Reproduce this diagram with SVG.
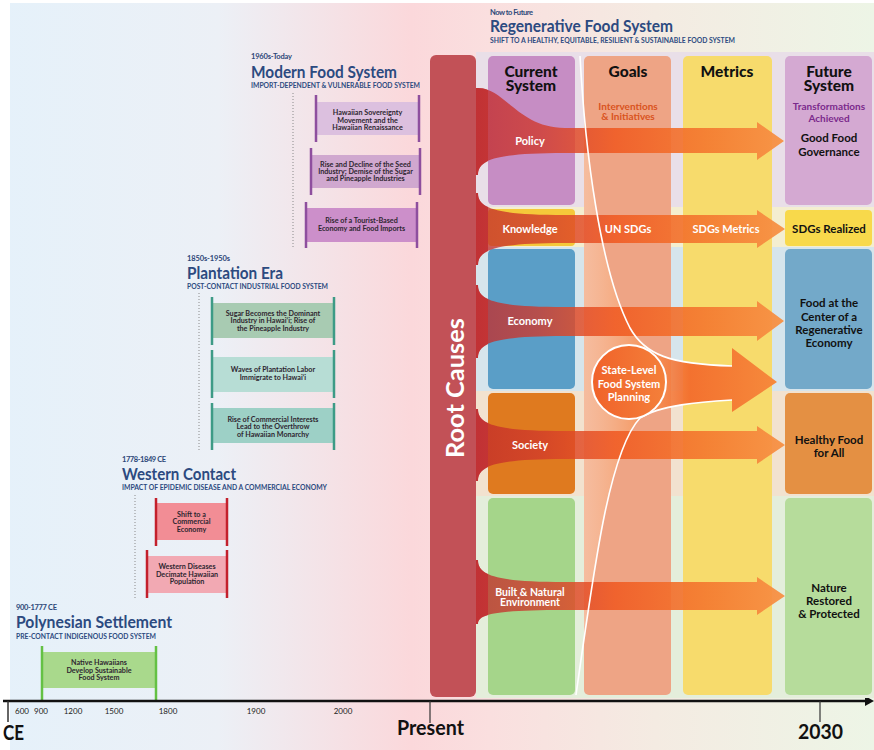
<svg xmlns="http://www.w3.org/2000/svg" width="874" height="750" viewBox="0 0 874 750">
<defs>
<style>
text{font-family:Lato,"Open Sans","Liberation Sans",sans-serif}
.yr{font-size:7.5px;font-weight:700;fill:#2c4778}
.ttl{font-size:17px;font-weight:700;fill:#2c4a80}
.sub{font-size:6.8px;font-weight:700;fill:#2c4a80}
.bx{font-size:7.2px;font-weight:700;fill:#2e2630;text-anchor:middle}
.hd{font-size:15.5px;font-weight:900;fill:#111;text-anchor:middle}
.al{font-size:11px;font-weight:700;fill:#fff;text-anchor:middle}
.al2{font-size:10.5px;font-weight:700;fill:#fff;text-anchor:middle}
.ft{font-size:11.5px;font-weight:700;fill:#111;text-anchor:middle}
.tk{font-size:8px;fill:#222;text-anchor:middle}
.big{font-weight:700;fill:#111}
.dot{stroke:#8a8a8a;stroke-width:1;stroke-dasharray:1 2;fill:none}
.bm{stroke:#8e4f9e;stroke-width:2.5}
.bp{stroke:#3d9b86;stroke-width:2.5}
.bw{stroke:#c3202c;stroke-width:2.5}
.bg{stroke:#64c144;stroke-width:2.5}
.arr{fill:url(#ag)}
.wl{fill:none;stroke:#fff;stroke-width:1.6}
</style>
<linearGradient id="bgg" x1="0" y1="0" x2="874" y2="0" gradientUnits="userSpaceOnUse">
<stop offset="0" stop-color="#e5f1fa"/>
<stop offset="0.25" stop-color="#ecf0f6"/>
<stop offset="0.47" stop-color="#fbd8db"/>
<stop offset="0.56" stop-color="#fadfdf"/>
<stop offset="0.75" stop-color="#f4ebe2"/>
<stop offset="1" stop-color="#edf5e6"/>
</linearGradient>
<linearGradient id="ag" x1="476" y1="0" x2="785" y2="0" gradientUnits="userSpaceOnUse">
<stop offset="0" stop-color="#c0282a" stop-opacity="0.75"/>
<stop offset="0.2" stop-color="#d0382a" stop-opacity="0.78"/>
<stop offset="0.45" stop-color="#f05a22" stop-opacity="0.88"/>
<stop offset="0.75" stop-color="#f47a30" stop-opacity="0.92"/>
<stop offset="1" stop-color="#f79245" stop-opacity="0.95"/>
</linearGradient>
<linearGradient id="sg" x1="584" y1="0" x2="777" y2="0" gradientUnits="userSpaceOnUse">
<stop offset="0" stop-color="#fbd0b4" stop-opacity="0.55"/>
<stop offset="0.3" stop-color="#f6955a" stop-opacity="0.8"/>
<stop offset="0.55" stop-color="#f36c2c" stop-opacity="0.95"/>
<stop offset="1" stop-color="#f68a3c"/>
</linearGradient>
<linearGradient id="cg" x1="0" y1="0" x2="1" y2="0">
<stop offset="0" stop-color="#f0622a"/>
<stop offset="1" stop-color="#f4803a"/>
</linearGradient>
<clipPath id="goalclip"><rect x="584" y="0" width="290" height="750"/></clipPath>
<clipPath id="gapclip"><rect x="476" y="0" width="12" height="750"/></clipPath>
<path id="a-policy" d="M476,88 L478,88 C505,88 518,128 565,128 L757,128 L757,122 L784,141 L757,160 L757,153 L565,153 C492,153 478,160.7 478,175 L476,175 Z"/>
<path id="a-knowledge" d="M476,193 L478,193 C478,207.3 492,215 565,215 L757,215 L757,210 L785,229 L757,248 L757,243 L565,243 C492,243 478,250.7 478,265 L476,265 Z"/>
<path id="a-economy" d="M476,285 L478,285 C478,299.3 492,307 565,307 L757,307 L757,301 L784,321 L757,341 L757,336 L565,336 C492,336 478,343.7 478,358 L476,358 Z"/>
<path id="a-society" d="M476,409 L478,409 C478,423.3 492,431 565,431 L757,431 L757,426 L785,445 L757,464 L757,459 L565,459 C492,459 478,466.7 478,481 L476,481 Z"/>
<path id="a-built" d="M476,560 L478,560 C478,574.3 492,582 565,582 L757,582 L757,577 L785,596 L757,615 L757,610 L565,610 C492,610 478,614.9 478,624 L476,624 Z"/>
</defs>

<rect x="10" y="3" width="864" height="747" fill="url(#bgg)"/>

<!-- Modern Food System -->
<g id="era-modern">
<text class="yr" x="251" y="59" textLength="41">1960s-Today</text>
<text class="ttl" x="251" y="78" textLength="146" lengthAdjust="spacingAndGlyphs">Modern Food System</text>
<text class="sub" x="251" y="88" textLength="169" lengthAdjust="spacingAndGlyphs">IMPORT-DEPENDENT &amp; VULNERABLE FOOD SYSTEM</text>
<line class="dot" x1="293" y1="93" x2="293" y2="248"/>
</g>
<g id="n-sovereignty">
<rect x="316" y="102" width="103" height="33" fill="#dcc0df"/>
<line class="bm" x1="316" y1="95" x2="316" y2="142"/><line class="bm" x1="419" y1="95" x2="419" y2="142"/>
<text class="bx" x="367.5" y="115">Hawaiian Sovereignty</text>
<text class="bx" x="367.5" y="122.5">Movement and the</text>
<text class="bx" x="367.5" y="130">Hawaiian Renaissance</text>
</g>
<g id="n-seed">
<rect x="311" y="155" width="109" height="33" fill="#d0a8cf"/>
<line class="bm" x1="311" y1="148" x2="311" y2="195"/><line class="bm" x1="420" y1="148" x2="420" y2="195"/>
<text class="bx" x="365.5" y="167.3">Rise and Decline of the Seed</text>
<text class="bx" x="365.5" y="174.3">Industry; Demise of the Sugar</text>
<text class="bx" x="365.5" y="181.3">and Pineapple Industries</text>
</g>
<g id="n-tourist">
<rect x="306" y="208" width="111" height="34" fill="#cc8fca"/>
<line class="bm" x1="306" y1="202" x2="306" y2="248"/><line class="bm" x1="417" y1="202" x2="417" y2="248"/>
<text class="bx" x="361.5" y="222.5">Rise of a Tourist-Based</text>
<text class="bx" x="361.5" y="230.5">Economy and Food Imports</text>
</g>

<!-- Plantation Era -->
<g id="era-plantation">
<text class="yr" x="187" y="261" textLength="43">1850s-1950s</text>
<text class="ttl" x="187" y="279" textLength="96" lengthAdjust="spacingAndGlyphs">Plantation Era</text>
<text class="sub" x="187" y="289" textLength="141" lengthAdjust="spacingAndGlyphs">POST-CONTACT INDUSTRIAL FOOD SYSTEM</text>
<line class="dot" x1="199" y1="293" x2="199" y2="450"/>
</g>
<g id="n-sugar">
<rect x="212" y="303" width="122" height="35" fill="#a8cbb2"/>
<line class="bp" x1="212" y1="297" x2="212" y2="345"/><line class="bp" x1="334" y1="297" x2="334" y2="345"/>
<text class="bx" x="273" y="316">Sugar Becomes the Dominant</text>
<text class="bx" x="273" y="323.3">Industry in Hawai‘i; Rise of</text>
<text class="bx" x="273" y="330.7">the Pineapple Industry</text>
</g>
<g id="n-labor">
<rect x="212" y="357" width="122" height="35" fill="#b7ddd5"/>
<line class="bp" x1="212" y1="350" x2="212" y2="398"/><line class="bp" x1="334" y1="350" x2="334" y2="398"/>
<text class="bx" x="273" y="372.3">Waves of Plantation Labor</text>
<text class="bx" x="273" y="380">Immigrate to Hawai‘i</text>
</g>
<g id="n-commercial">
<rect x="212" y="408" width="122" height="35" fill="#9dd0c6"/>
<line class="bp" x1="212" y1="403" x2="212" y2="450"/><line class="bp" x1="334" y1="403" x2="334" y2="450"/>
<text class="bx" x="273" y="421.7">Rise of Commercial Interests</text>
<text class="bx" x="273" y="429">Lead to the Overthrow</text>
<text class="bx" x="273" y="436.7">of Hawaiian Monarchy</text>
</g>

<!-- Western Contact -->
<g id="era-western">
<text class="yr" x="122" y="462" textLength="44">1778-1849 CE</text>
<text class="ttl" x="122" y="480" textLength="114" lengthAdjust="spacingAndGlyphs">Western Contact</text>
<text class="sub" x="122" y="490" textLength="205" lengthAdjust="spacingAndGlyphs">IMPACT OF EPIDEMIC DISEASE AND A COMMERCIAL ECONOMY</text>
<line class="dot" x1="135" y1="495" x2="135" y2="598"/>
</g>
<g id="n-shift">
<rect x="156" y="503" width="71" height="37" fill="#f28d95"/>
<line class="bw" x1="156" y1="498" x2="156" y2="546"/><line class="bw" x1="227" y1="498" x2="227" y2="546"/>
<text class="bx" x="191.5" y="516.7">Shift to a</text>
<text class="bx" x="191.5" y="524">Commercial</text>
<text class="bx" x="191.5" y="531.7">Economy</text>
</g>
<g id="n-diseases">
<rect x="147" y="556" width="80" height="37" fill="#f2a9b3"/>
<line class="bw" x1="147" y1="550" x2="147" y2="598"/><line class="bw" x1="227" y1="550" x2="227" y2="598"/>
<text class="bx" x="187" y="569.3">Western Diseases</text>
<text class="bx" x="187" y="577">Decimate Hawaiian</text>
<text class="bx" x="187" y="584.3">Population</text>
</g>

<!-- Polynesian Settlement -->
<g id="era-polynesian">
<text class="yr" x="16" y="610" textLength="41">900-1777 CE</text>
<text class="ttl" x="16" y="628" textLength="156" lengthAdjust="spacingAndGlyphs">Polynesian Settlement</text>
<text class="sub" x="16" y="639" textLength="140" lengthAdjust="spacingAndGlyphs">PRE-CONTACT INDIGENOUS FOOD SYSTEM</text>
</g>
<g id="n-native">
<rect x="42" y="652" width="114" height="36" fill="#a9d98c"/>
<line class="bg" x1="42" y1="646" x2="42" y2="700"/><line class="bg" x1="156" y1="646" x2="156" y2="700"/>
<text class="bx" x="99" y="665">Native Hawaiians</text>
<text class="bx" x="99" y="672.7">Develop Sustainable</text>
<text class="bx" x="99" y="680">Food System</text>
</g>

<!-- Timeline axis -->
<g id="axis">
<line x1="3" y1="701" x2="868" y2="701" stroke="#111" stroke-width="2.5"/>
<polygon points="865,696 874,701 865,706" fill="#111"/>
<line x1="8" y1="701" x2="8" y2="722" stroke="#333" stroke-width="1.5"/>
<line x1="430" y1="701" x2="430" y2="723" stroke="#333" stroke-width="1.2"/>
<line x1="820" y1="701" x2="820" y2="722" stroke="#333" stroke-width="1.2"/>
<text class="tk" x="22" y="714">600</text>
<text class="tk" x="41" y="714">900</text>
<text class="tk" x="73" y="714">1200</text>
<text class="tk" x="114" y="714">1500</text>
<text class="tk" x="168" y="714">1800</text>
<text class="tk" x="256" y="714">1900</text>
<text class="tk" x="343" y="714">2000</text>
<text class="big" x="3" y="740" font-size="20" textLength="21" lengthAdjust="spacingAndGlyphs">CE</text>
<text class="big" x="397" y="735" font-size="20" textLength="67" lengthAdjust="spacingAndGlyphs">Present</text>
<text class="big" x="798" y="739" font-size="20" textLength="45" lengthAdjust="spacingAndGlyphs">2030</text>
</g>

<!-- Regenerative header -->
<g id="era-regenerative">
<text class="yr" x="490" y="15" font-size="7" textLength="43">Now to Future</text>
<text class="ttl" x="490" y="32" font-size="16" textLength="183" lengthAdjust="spacingAndGlyphs">Regenerative Food System</text>
<text class="sub" x="490" y="43" font-size="6.2" textLength="245" lengthAdjust="spacingAndGlyphs">SHIFT TO A HEALTHY, EQUITABLE, RESILIENT &amp; SUSTAINABLE FOOD SYSTEM</text>
</g>

<!-- Row tints -->
<g id="row-tints">
<rect x="476" y="52" width="398" height="155" fill="#e9dfe8"/>
<rect x="476" y="207" width="398" height="40" fill="#f4eed0"/>
<rect x="476" y="247" width="398" height="144" fill="#d6e5ec"/>
<rect x="476" y="391" width="398" height="105" fill="#f2e2cf"/>
<rect x="476" y="496" width="398" height="202" fill="#e4eedb"/>
</g>

<!-- Root causes -->
<g id="root-causes">
<rect x="430" y="55" width="46" height="642" rx="6" fill="#c25157"/>
</g>

<!-- Current system column -->
<g id="col-current">
<rect x="488" y="56" width="87" height="149" rx="5" fill="#c68dc4"/>
<rect x="488" y="209" width="87" height="37" rx="4" fill="#f5c93a"/>
<rect x="488" y="249" width="87" height="140" rx="5" fill="#5a9ec7"/>
<rect x="488" y="393" width="87" height="101" rx="5" fill="#df7a1f"/>
<rect x="488" y="498" width="87" height="197" rx="5" fill="#a5d58a"/>
</g>
<g id="col-goals">
<rect x="584" y="56" width="87" height="639" rx="5" fill="#eea485"/>
</g>
<g id="col-metrics">
<rect x="683" y="56" width="89" height="639" rx="5" fill="#f7db6c"/>
</g>
<g id="col-future">
<rect x="785" y="56" width="87" height="149" rx="5" fill="#d4a9d2"/>
<rect x="785" y="210" width="87" height="36" rx="4" fill="#f8d94b"/>
<rect x="785" y="249" width="87" height="140" rx="5" fill="#73a9c9"/>
<rect x="785" y="393" width="87" height="101" rx="5" fill="#e49043"/>
<rect x="785" y="498" width="87" height="197" rx="5" fill="#b6dc9b"/>
</g>

<!-- Connectors -->
<g id="connectors">
<path clip-path="url(#goalclip)" fill="url(#sg)" d="M580,56 C585,150 600,270 630,328 C645,355 670,364 732,366 L732,348 L777,382 L732,412 L732,400 C700,402 660,405 640,418 C610,450 595,560 576,695 Z"/>
<g clip-path="url(#gapclip)" fill="#c44e55">
<use href="#a-policy"/><use href="#a-knowledge"/><use href="#a-economy"/><use href="#a-society"/><use href="#a-built"/>
</g>
<use class="arr" href="#a-policy"/>
<use class="arr" href="#a-knowledge"/>
<use class="arr" href="#a-economy"/>
<use class="arr" href="#a-society"/>
<use class="arr" href="#a-built"/>
<path class="wl" d="M580,56 C585,150 600,270 630,328 C645,355 670,364 732,366"/>
<path class="wl" d="M576,695 C595,560 610,450 640,418 C660,405 700,402 732,400"/>
</g>

<g id="n-state-planning">
<circle cx="629" cy="382" r="37" fill="url(#cg)" stroke="#fff" stroke-width="2"/>
<text class="al" x="629" y="374">State-Level</text>
<text class="al" x="629" y="388">Food System</text>
<text class="al" x="629" y="401">Planning</text>
</g>

<g id="root-label">
<text x="464" y="388" font-size="24" font-weight="700" fill="#fff" text-anchor="middle" textLength="140" lengthAdjust="spacingAndGlyphs" transform="rotate(-90 464 388)">Root Causes</text>
</g>

<g id="headers">
<text class="hd" x="531" y="77">Current</text>
<text class="hd" x="531" y="91">System</text>
<text class="hd" x="628" y="77">Goals</text>
<text class="hd" x="727" y="77">Metrics</text>
<text class="hd" x="829" y="77">Future</text>
<text class="hd" x="829" y="91">System</text>
<text x="628" y="110" font-size="10" font-weight="700" fill="#d9531e" text-anchor="middle">Interventions</text>
<text x="628" y="120" font-size="10" font-weight="700" fill="#d9531e" text-anchor="middle">&amp; Initiatives</text>
<text x="829" y="110" font-size="10" font-weight="700" fill="#7b2a8c" text-anchor="middle">Transformations</text>
<text x="829" y="122" font-size="10" font-weight="700" fill="#7b2a8c" text-anchor="middle">Achieved</text>
</g>

<g id="arrow-labels">
<text class="al" x="530" y="145">Policy</text>
<text class="al" x="530" y="233">Knowledge</text>
<text class="al" x="628" y="233">UN SDGs</text>
<text class="al" x="726" y="233">SDGs Metrics</text>
<text class="al" x="530" y="325">Economy</text>
<text class="al" x="530" y="449">Society</text>
<text class="al2" x="530" y="595.5">Built &amp; Natural</text>
<text class="al2" x="530" y="606">Environment</text>
</g>

<g id="future-labels">
<text class="ft" x="829" y="142">Good Food</text>
<text class="ft" x="829" y="156">Governance</text>
<text class="ft" x="829" y="233">SDGs Realized</text>
<text class="ft" x="829" y="307">Food at the</text>
<text class="ft" x="829" y="321">Center of a</text>
<text class="ft" x="829" y="334">Regenerative</text>
<text class="ft" x="829" y="347">Economy</text>
<text class="ft" x="829" y="444">Healthy Food</text>
<text class="ft" x="829" y="457">for All</text>
<text class="ft" x="829" y="592">Nature</text>
<text class="ft" x="829" y="605">Restored</text>
<text class="ft" x="829" y="618">&amp; Protected</text>
</g>
</svg>
